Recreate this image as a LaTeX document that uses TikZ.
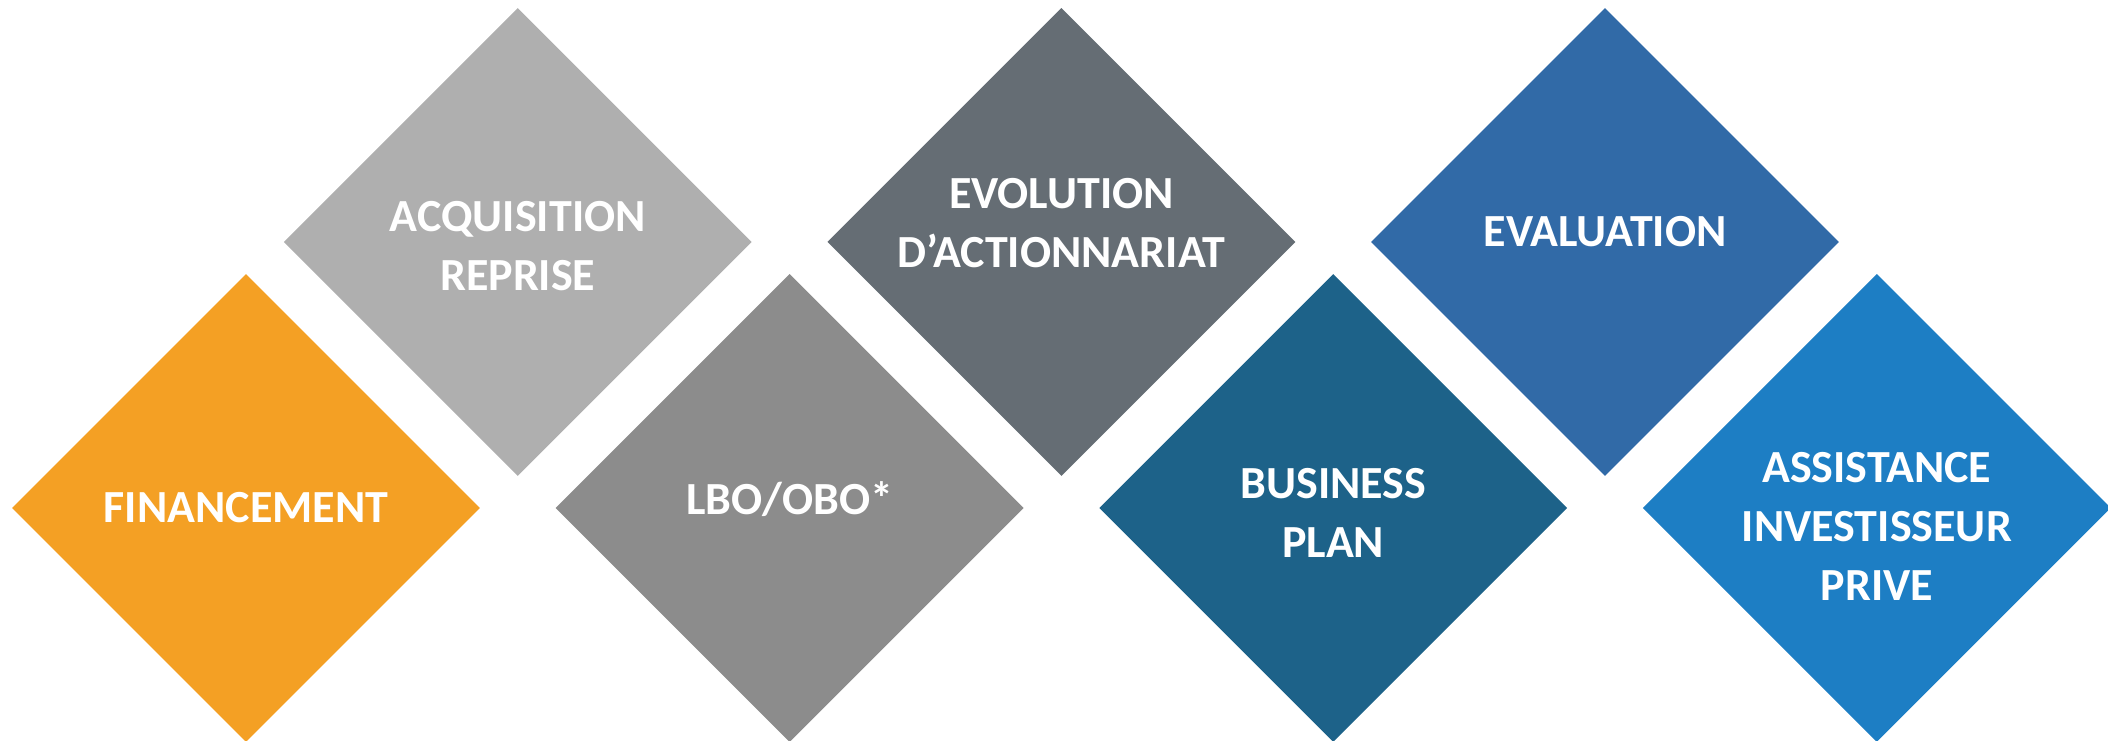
\documentclass[tikz,border=0pt]{standalone}
\usepackage{fontspec}
\setmainfont{Carlito}
\usetikzlibrary{shapes.geometric}

\definecolor{orangeF}{HTML}{F4A024}
\definecolor{grayA}{HTML}{AFAFAF}
\definecolor{grayL}{HTML}{8C8C8C}
\definecolor{grayE}{HTML}{656D74}
\definecolor{tealB}{HTML}{1D6289}
\definecolor{blueV}{HTML}{316AA7}
\definecolor{blueP}{HTML}{1D7EC4}

\def\dist{271.8}
\def\low{233}
\def\high{499}
\tikzstyle{d}=[diamond,aspect=1,inner sep=0pt,minimum size=468pt]
\tikzstyle{t}=[text=white,align=center,inner sep=0pt,font=\bfseries\fontsize{46}{59}\selectfont]

\begin{document}
\begin{tikzpicture}[x=1pt,y=1pt]
			\useasboundingbox (0,0) rectangle (2108,741);
			\node[d,fill=orangeF](fin) at (246+0*\dist,\low){};
			\node[d,fill=grayA](acq) at (246+1*\dist,\high){};
			\node[d,fill=grayL](lbo) at (246+2*\dist,\low){};
			\node[d,fill=grayE](evo) at (246+3*\dist,\high){};
			\node[d,fill=tealB](bp) at (246+4*\dist,\low){};
			\node[d,fill=blueV](eval) at (246+5*\dist,\high){};
			\node[d,fill=blueP](aip) at (246+6*\dist,\low){};
			\node[t](finT) at (fin){FINANCEMENT};
			\node[t,yshift=-4pt](acqT) at (acq){ACQUISITION\\REPRISE};
			\node[t,yshift=9pt](lboT) at (lbo){LBO/OBO*};
			\node[t,yshift=19pt](evoT) at (evo){EVOLUTION\\D’ACTIONNARIAT};
			\node[t,yshift=-5pt](bpT) at (bp){BUSINESS\\PLAN};
			\node[t,yshift=10pt](evalT) at (eval){EVALUATION};
			\node[t,yshift=-18pt](aipT) at (aip){ASSISTANCE\\INVESTISSEUR\\PRIVE};
		\end{tikzpicture}
\end{document}
